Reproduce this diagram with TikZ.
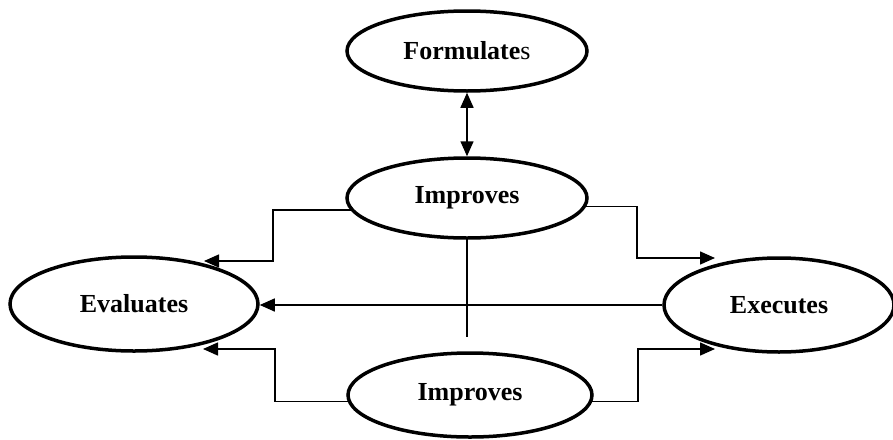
\documentclass[tikz,border=0pt]{standalone}
\usepackage{fontspec}
\setmainfont{Liberation Serif}
\usetikzlibrary{shapes.geometric,arrows.meta}
\begin{document}
\begin{tikzpicture}[x=1pt,y=-1pt,
  oval/.style={ellipse,draw,line width=3.5pt,inner sep=0pt,font=\fontsize{26}{30}\selectfont\bfseries},
  conn/.style={line width=1.5pt},
  tip/.style={-{Triangle[length=15pt,width=13pt]}},
  dtip/.style={{Triangle[length=15pt,width=13pt]}-{Triangle[length=15pt,width=13pt]}}]
\useasboundingbox (0,0) rectangle (893,439);
\node[oval,minimum width=240pt,minimum height=80pt] (form) at (467,51) {Formulate\textmd{s}};
\node[oval,minimum width=240pt,minimum height=80pt] (imp1) at (467,198) {Improves};
\node[oval,minimum width=248pt,minimum height=94pt] (eva) at (134,304) {Evaluates};
\node[oval,minimum width=230pt,minimum height=94pt] (exe) at (779,305) {Executes};
\node[oval,minimum width=244pt,minimum height=84pt] (imp2) at (470,395) {Improves};
% double arrow
\draw[conn,dtip] (form.south) -- (imp1.north);
% upper Improves branches
\coordinate (bl) at (273,261);
\coordinate (l1) at (204,261);
\draw[conn,tip] (imp1.186) -| (bl) -- (l1);
\coordinate (br) at (637,258);
\coordinate (r1) at (715,258);
\draw[conn,tip] (imp1.-4) -| (br) -- (r1);
\coordinate (vend) at (467,337);
\draw[conn] (imp1.south) -- (vend);
% Executes to Evaluates
\draw[conn,tip] (exe.west) -- (exe.west -| eva.east);
% lower Improves branches
\coordinate (bl2) at (275,349);
\coordinate (l2) at (203,349);
\draw[conn,tip] (imp2.183) -| (bl2) -- (l2);
\coordinate (br2) at (638,349);
\coordinate (r2) at (715,349);
\draw[conn,tip] (imp2.-3) -| (br2) -- (r2);
\end{tikzpicture}
\end{document}
